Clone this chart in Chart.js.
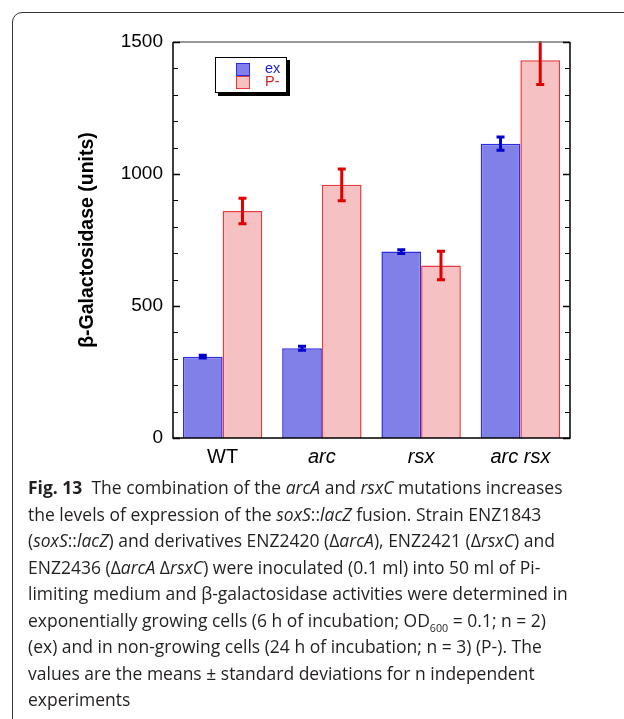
<!DOCTYPE html>
<html>
<head>
<meta charset="utf-8">
<script src="https://cdn.jsdelivr.net/npm/chart.js@4.4.1/dist/chart.umd.min.js"></script>
<style>
  html, body { margin: 0; padding: 0; background: #fff; }
  body { width: 624px; height: 719px; overflow: hidden; position: relative; }
  #frame {
    position: absolute; left: 12px; top: 12px; width: 700px; height: 800px;
    border: 1.3px solid #333; border-radius: 10px; box-sizing: border-box;
  }
  #wrap { position: absolute; left: 0; top: 0; width: 624px; height: 475px; }
  #legend {
    position: absolute; left: 215px; top: 57px; width: 72px; height: 36px;
    border: 1.5px solid #000; box-sizing: border-box; background: #fff;
    box-shadow: 3px 3px 0 #000;
    font-family: "Liberation Sans", Arial, sans-serif; font-size: 14.5px; line-height: 13px;
  }
  #legend .sw { position: absolute; left: 20px; width: 14px; height: 13.5px; box-sizing: border-box; border: 1.5px solid; }
  #legend .lb { position: absolute; left: 49px; white-space: nowrap; }
  #caption {
    position: absolute; left: 28px; top: 474px; width: 640px;
    font-family: "Open Sans", sans-serif; font-size: 18px; line-height: 26.5px;
    color: #231f20; white-space: nowrap; transform: scaleX(0.972); transform-origin: left top;
  }
  #caption b { font-weight: 700; }
  #caption sub { font-size: 11px; line-height: 0; }
</style>
</head>
<body>
<div id="frame"></div>
<div id="wrap"><canvas id="chart" width="624" height="475"></canvas></div>
<div id="legend"></div>
<div id="caption">
<div><b>Fig. 13</b>&nbsp; The combination of the <i>arcA</i> and <i>rsxC</i> mutations increases</div>
<div>the levels of expression of the <i>soxS</i>::<i>lacZ</i> fusion. Strain ENZ1843</div>
<div>(<i>soxS</i>::<i>lacZ</i>) and derivatives ENZ2420 (Δ<i>arcA</i>), ENZ2421 (Δ<i>rsxC</i>) and</div>
<div>ENZ2436 (Δ<i>arcA</i> Δ<i>rsxC</i>) were inoculated (0.1 ml) into 50 ml of Pi-</div>
<div>limiting medium and β-galactosidase activities were determined in</div>
<div>exponentially growing cells (6 h of incubation; OD<sub>600</sub> = 0.1; n = 2)</div>
<div>(ex) and in non-growing cells (24 h of incubation; n = 3) (P-). The</div>
<div>values are the means ± standard deviations for n independent</div>
<div>experiments</div>
</div>
<script>
const categories = ["WT", "arc", "rsx", "arc rsx"];
const seriesNames = ["ex", "P-"];
const exValues = [308, 340, 706, 1115];
const exErrors = [5, 8, 7, 25];
const pValues = [860, 959, 653, 1431];
const pErrors = [48, 60, 54, 92];
const yTickLabels = [0, 500, 1000, 1500];

const blueFill = "#8080e8", blueLine = "#2b2be0", blueErr = "#0000cc";
const redFill = "#f5c1c2", redLine = "#e8383c", redErr = "#e00000";

// error bars, clipped to plot area
const errorBars = {
  id: "errorBars",
  afterDatasetsDraw(chart) {
    const ctx = chart.ctx, y = chart.scales.y, a = chart.chartArea;
    ctx.save();
    ctx.beginPath();
    ctx.rect(a.left, a.top - 1, a.right - a.left, a.bottom - a.top + 1);
    ctx.clip();
    chart.data.datasets.forEach((ds, di) => {
      const meta = chart.getDatasetMeta(di);
      ctx.strokeStyle = ds.errColor;
      ctx.lineWidth = 3;
      meta.data.forEach((bar, i) => {
        const v = ds.data[i], e = ds.errors[i];
        const y1 = y.getPixelForValue(v + e), y2 = y.getPixelForValue(v - e);
        ctx.beginPath();
        ctx.moveTo(bar.x, y1); ctx.lineTo(bar.x, y2);
        ctx.moveTo(bar.x - 4, y1); ctx.lineTo(bar.x + 4, y1);
        ctx.moveTo(bar.x - 4, y2); ctx.lineTo(bar.x + 4, y2);
        ctx.stroke();
      });
    });
    ctx.restore();
  }
};

// box frame with inward ticks
const frameTicks = {
  id: "frameTicks",
  afterDraw(chart) {
    const ctx = chart.ctx, y = chart.scales.y, a = chart.chartArea;
    ctx.save();
    ctx.strokeStyle = "#777";
    ctx.lineWidth = 1.5;
    ctx.beginPath(); ctx.moveTo(a.left, a.top); ctx.lineTo(a.right, a.top); ctx.stroke();
    ctx.strokeStyle = "#000";
    ctx.beginPath();
    ctx.moveTo(a.left, a.top); ctx.lineTo(a.left, a.bottom); ctx.lineTo(a.right, a.bottom); ctx.lineTo(a.right, a.top);
    ctx.stroke();
    y.ticks.forEach(t => {
      const py = Math.round(y.getPixelForValue(t.value)) + 0.5;
      const len = t.value % 500 === 0 ? 7 : 5;
      ctx.lineWidth = t.value % 500 === 0 ? 1.5 : 1;
      ctx.beginPath();
      ctx.moveTo(a.left, py); ctx.lineTo(a.left + len, py);
      ctx.moveTo(a.right, py); ctx.lineTo(a.right - len, py);
      ctx.stroke();
    });
    ctx.restore();
  }
};

const chart = new Chart(document.getElementById("chart"), {
  type: "bar",
  data: {
    labels: categories,
    datasets: [
      { label: seriesNames[0], data: exValues, errors: exErrors, errColor: blueErr,
        backgroundColor: blueFill, borderColor: blueLine, borderWidth: 1.5 },
      { label: seriesNames[1], data: pValues, errors: pErrors, errColor: redErr,
        backgroundColor: redFill, borderColor: redLine, borderWidth: 1.5 }
    ]
  },
  options: {
    responsive: false,
    animation: false,
    devicePixelRatio: 1,
    layout: { padding: { top: 42, right: 54, left: 0, bottom: 0 } },
    categoryPercentage: 0.8,
    barPercentage: 1.0,
    plugins: { legend: { display: false }, tooltip: { enabled: false } },
    scales: {
      x: {
        grid: { display: false, drawTicks: false },
        border: { display: false },
        ticks: {
          padding: 7,
          color: "#000",
          font: (c) => ({ family: "Liberation Sans", size: 20, style: c.index === 0 ? "normal" : "italic" })
        },
        afterFit(s) { s.height = 37; }
      },
      y: {
        min: 0, max: 1500,
        grid: { display: false, drawTicks: false },
        border: { display: false },
        ticks: {
          stepSize: 100,
          padding: 10,
          color: "#000",
          font: { family: "Liberation Sans", size: 19 },
          callback: (v) => yTickLabels.includes(v) ? String(v) : ""
        },
        title: {
          display: true,
          text: "β-Galactosidase (units)",
          color: "#000",
          font: { family: "Liberation Sans", size: 19.5, weight: "bold" },
          padding: { top: 76, bottom: 0 }
        },
        afterFit(s) { s.width = 173; }
      }
    }
  },
  plugins: [errorBars, frameTicks]
});

// legend from the datasets
const legend = document.getElementById("legend");
chart.data.datasets.forEach((ds, i) => {
  const sw = document.createElement("span");
  sw.className = "sw";
  sw.style.top = (4.5 + i * 13) + "px";
  sw.style.background = ds.backgroundColor;
  sw.style.borderColor = ds.borderColor;
  const lb = document.createElement("span");
  lb.className = "lb";
  lb.style.top = (3.5 + i * 13.5) + "px";
  lb.style.color = i === 0 ? "#2020e0" : "#e02020";
  lb.textContent = ds.label;
  legend.appendChild(sw);
  legend.appendChild(lb);
});
</script>
</body>
</html>
